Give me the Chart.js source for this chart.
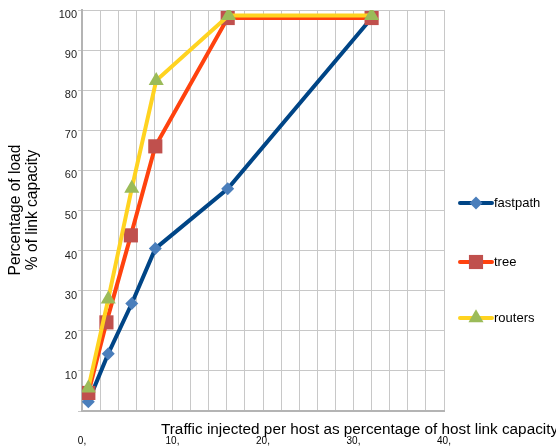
<!DOCTYPE html>
<html lang="en">
<head>
  <meta charset="UTF-8">
  <title>Percentage of load vs traffic injected</title>
  <script src="https://cdn.jsdelivr.net/npm/chart.js"></script>
  <style>
    body {
      margin: 0;
      background: #fff;
      font-family: 'Liberation Sans', Arial, sans-serif;
    }
    #wrap {
      width: 556px;
      height: 446px;
    }
  </style>
</head>
<body>
  <div id="wrap">
    <canvas id="loadChart" width="556" height="446"></canvas>
  </div>

  <script>
    // values (x = traffic injected %, y = load %)
    const fastpathX = [0.7, 2.9, 5.5, 8.1, 16.1, 32];
    const fastpathY = [2.3, 14.3, 26.8, 40.5, 55.4, 98];
    const treeX = [0.7, 2.7, 5.4, 8.1, 16.1, 32];
    const treeY = [4.5, 22.1, 43.8, 66, 98, 98];
    const routersX = [0.7, 2.9, 5.5, 8.2, 16.2, 32];
    const routersY = [5.7, 27.9, 55.5, 82.4, 98.6, 98.6];

    const xTitle = 'Traffic injected per host as percentage of host link capacity';
    const yTitle = ['Percentage of load', '% of link capacity'];

    const toPoints = (xs, ys) => xs.map((x, i) => ({ x, y: ys[i] }));

    // axis titles + side legend drawn by hand, keynote style
    const extras = {
      id: 'extras',
      afterDraw(chart) {
        const ctx = chart.ctx;
        ctx.save();
        ctx.fillStyle = '#000';
        ctx.font = '15.3px "Liberation Sans", Arial, sans-serif';
        ctx.textBaseline = 'middle';
        ctx.textAlign = 'left';
        ctx.fillText(xTitle, 161, 430);

        ctx.save();
        ctx.translate(25, 210);
        ctx.rotate(-Math.PI / 2);
        ctx.textAlign = 'center';
        ctx.font = '15.6px "Liberation Sans", Arial, sans-serif';
        ctx.fillText(yTitle[0], 0, -9);
        ctx.fillText(yTitle[1], 0, 8);
        ctx.restore();

        const legendY = [203, 262, 318];
        ctx.font = '13px "Liberation Sans", Arial, sans-serif';
        chart.data.datasets.forEach((ds, i) => {
          const y = legendY[i];
          ctx.strokeStyle = ds.borderColor;
          ctx.lineWidth = 4;
          ctx.lineCap = 'round';
          ctx.beginPath();
          ctx.moveTo(460, y);
          ctx.lineTo(492, y);
          ctx.stroke();
          ctx.fillStyle = ds.pointBackgroundColor;
          ctx.strokeStyle = ds.pointBackgroundColor;
          ctx.lineWidth = 0;
          Chart.helpers.drawPoint(ctx, {
            pointStyle: ds.pointStyle,
            radius: ds.pointRadius,
            rotation: 0,
            borderWidth: 0
          }, 476, y);
          ctx.fillStyle = '#000';
          ctx.textAlign = 'left';
          ctx.fillText(ds.label, 494, y);
        });
        ctx.restore();
      }
    };

    const ctx = document.getElementById('loadChart').getContext('2d');
    new Chart(ctx, {
      type: 'line',
      data: {
        datasets: [
          {
            label: 'fastpath',
            data: toPoints(fastpathX, fastpathY),
            borderColor: '#004586',
            pointBackgroundColor: '#4a7ebb',
            pointBorderColor: '#4a7ebb',
            pointStyle: 'rectRot',
            pointRadius: 6.5,
            order: 3
          },
          {
            label: 'tree',
            data: toPoints(treeX, treeY),
            borderColor: '#ff420e',
            pointBackgroundColor: '#c0504d',
            pointBorderColor: '#c0504d',
            pointStyle: 'rect',
            pointRadius: 10,
            order: 2
          },
          {
            label: 'routers',
            data: toPoints(routersX, routersY),
            borderColor: '#ffd320',
            pointBackgroundColor: '#9bbb59',
            pointBorderColor: '#9bbb59',
            pointStyle: 'triangle',
            pointRadius: 8.7,
            order: 1
          }
        ]
      },
      options: {
        responsive: false,
        animation: false,
        elements: {
          line: { borderWidth: 4, tension: 0, fill: false },
          point: { borderWidth: 0 }
        },
        layout: {
          padding: { left: 0, top: 7, right: 112, bottom: 0 }
        },
        plugins: {
          legend: { display: false },
          tooltip: { enabled: false }
        },
        scales: {
          x: {
            type: 'linear',
            min: 0,
            max: 40,
            ticks: {
              stepSize: 2,
              autoSkip: false,
              maxRotation: 0,
              padding: 24,
              color: '#000',
              font: { size: 10, family: '"Liberation Sans", Arial, sans-serif' },
              callback: v => (v % 10 === 0 ? v + ',' : '')
            },
            grid: { color: '#c8c8c8', drawTicks: false },
            border: { color: '#b4b4b4', width: 2 },
            afterFit: s => { s.height = 35; }
          },
          y: {
            min: 0,
            max: 100,
            ticks: {
              stepSize: 10,
              padding: 1,
              labelOffset: 5,
              color: '#222',
              font: { size: 11, family: '"Liberation Sans", Arial, sans-serif' },
              callback: v => (v === 0 ? '' : v)
            },
            grid: { color: '#c8c8c8', tickLength: 4 },
            border: { color: '#b4b4b4', width: 2 },
            afterFit: s => { s.width = 82; }
          }
        }
      },
      plugins: [extras]
    });
  </script>
</body>
</html>
